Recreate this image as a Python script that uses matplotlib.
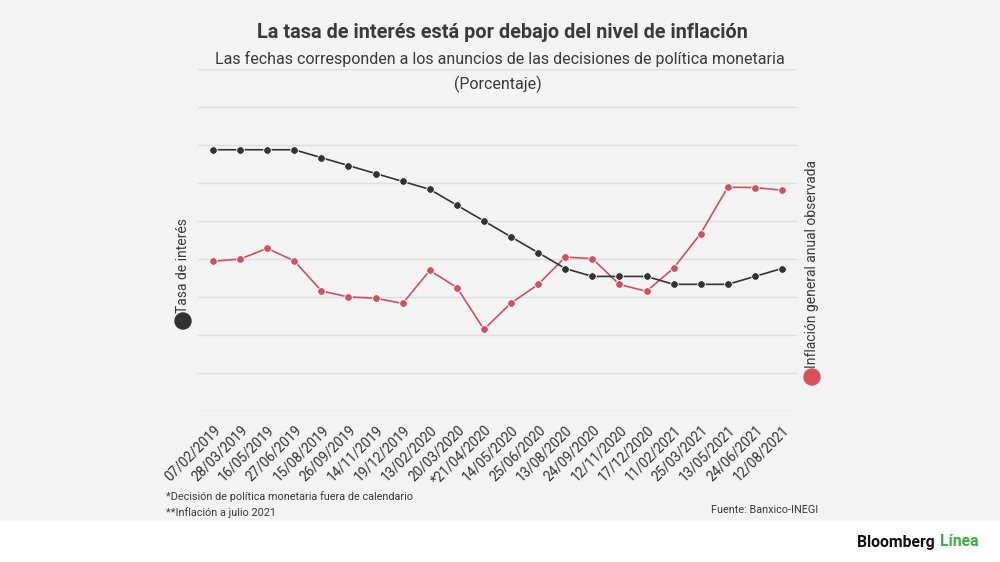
import matplotlib
matplotlib.use("Agg")
import matplotlib.pyplot as plt
from matplotlib.patches import Rectangle

plt.rcParams['font.family'] = ['Roboto', 'DejaVu Sans']

fechas = ["07/02/2019", "28/03/2019", "16/05/2019", "27/06/2019", "15/08/2019",
          "26/09/2019", "14/11/2019", "19/12/2019", "13/02/2020", "20/03/2020",
          "*21/04/2020", "14/05/2020", "25/06/2020", "13/08/2020", "24/09/2020",
          "12/11/2020", "17/12/2020", "11/02/2021", "25/03/2021", "13/05/2021",
          "24/06/2021", "12/08/2021"]
tasa = [8.25, 8.25, 8.25, 8.25, 8.00, 7.75, 7.50, 7.25, 7.00, 6.50, 6.00,
        5.50, 5.00, 4.50, 4.25, 4.25, 4.25, 4.00, 4.00, 4.00, 4.25, 4.50]
inflacion = [3.94, 4.00, 4.28, 3.95, 3.16, 3.00, 2.97, 2.83, 3.70, 3.25, 2.15,
             2.84, 3.33, 4.05, 4.01, 3.33, 3.15, 3.76, 4.67, 5.89, 5.88, 5.81]

BG = "#f3f3f3"
BLACK = "#333333"
RED = "#d0515e"
GRID = "#dedede"

fig = plt.figure(figsize=(10, 5.62), dpi=100)
fig.patch.set_facecolor("white")
fig.patches.append(Rectangle((0, 1 - 521 / 562), 1, 521 / 562, transform=fig.transFigure,
                             facecolor=BG, edgecolor="none", zorder=-10))

left, right, top, bottom = 198, 797, 69, 411
pos = [left / 1000, 1 - bottom / 562, (right - left) / 1000, (bottom - top) / 562]
ax = fig.add_axes(pos)
ax.set_facecolor("none")
ax2 = ax.twinx()

x = list(range(len(fechas)))
ax.set_xlim(-0.554, len(fechas) - 1 + 0.554)
ax.set_ylim(0, 9)
ax2.set_ylim(0, 10.8)

ax.set_yticks(range(0, 10))
ax.yaxis.grid(True, color=GRID, linewidth=1)
ax.set_axisbelow(True)
ax.tick_params(axis='y', left=False, labelleft=False)
ax2.tick_params(axis='y', right=False, labelright=False)
for a in (ax, ax2):
    for s in a.spines.values():
        s.set_visible(False)

ax.plot(x, inflacion, color=RED, linewidth=1.2, marker='o', markersize=5.5,
        markeredgecolor="white", markeredgewidth=0.6, zorder=3, clip_on=False)
ax2.plot(x, tasa, color=BLACK, linewidth=1.2, marker='o', markersize=5.5,
         markeredgecolor="white", markeredgewidth=0.6, zorder=3, clip_on=False)

ax.set_xticks(x)
ax.set_xticklabels(fechas, rotation=45, ha='right', rotation_mode='anchor',
                   fontsize=9.8, color="#333333")
ax.tick_params(axis='x', bottom=False, pad=5)

# Titles
fig.text(0.502, 1 - 32 / 562, "La tasa de interés está por debajo del nivel de inflación",
         ha='center', va='center', fontsize=14.3, fontweight='bold', color="#3a3a3a")
fig.text(0.4995, 1 - 59 / 562, "Las fechas corresponden a los anuncios de las decisiones de política monetaria",
         ha='center', va='center', fontsize=11.5, color="#3a3a3a")
fig.text(0.4975, 1 - 84 / 562, "(Porcentaje)", ha='center', va='center',
         fontsize=11.5, color="#3a3a3a")

# Axis labels with dots
fig.text(183 / 1000, 1 - 266 / 562, "Tasa de interés", rotation=90, ha='center', va='center',
         fontsize=10, color="#3a3a3a")
fig.patches.append(plt.Circle((183 / 1000 * 10, (1 - 321 / 562) * 5.62), 0.08,
                              transform=fig.dpi_scale_trans, color=BLACK))
fig.text(812 / 1000, 1 - 264 / 562, "Inflación general anual observada", rotation=90,
         ha='center', va='center', fontsize=10, color="#3a3a3a")
fig.patches.append(plt.Circle((812 / 1000 * 10, (1 - 377 / 562) * 5.62), 0.08,
                              transform=fig.dpi_scale_trans, color="#d9505a"))

# Footnotes
fig.text(166 / 1000, 1 - 497 / 562, "*Decisión de política monetaria fuera de calendario",
         ha='left', va='center', fontsize=7.8, color="#3a3a3a")
fig.text(166 / 1000, 1 - 513 / 562, "**Inflación a julio 2021",
         ha='left', va='center', fontsize=7.8, color="#3a3a3a")
fig.text(818 / 1000, 1 - 510 / 562, "Fuente: Banxico-INEGI",
         ha='right', va='center', fontsize=7.8, color="#3a3a3a")

# Logo text
fig.text(857 / 1000, 1 - 542 / 562, "Bloomberg", ha='left', va='center',
         fontsize=11.3, fontweight='bold', color="#111111")
fig.text(940 / 1000, 1 - 542 / 562, "Línea", ha='left', va='center',
         fontsize=11.3, fontweight='bold', color="#3fae49")

fig.savefig("out.png", dpi=100, facecolor=fig.get_facecolor())
